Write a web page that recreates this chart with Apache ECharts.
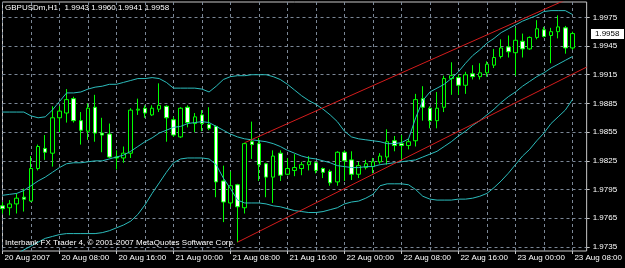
<!DOCTYPE html>
<html><head><meta charset="utf-8">
<script src="https://cdn.jsdelivr.net/npm/echarts@6/dist/echarts.min.js"></script>
<style>html,body{margin:0;padding:0;background:#000;}#c{width:625px;height:268px;}</style>
</head><body><div id="c"></div>
<script>
const chartTitle = "GBPUSDm,H1   1.9943 1.9960 1.9941 1.9958";
const copyright = "Interbank FX Trader 4, \u00a9 2001-2007 MetaQuotes Software Corp.";
const tickLabels = ["20 Aug 2007","20 Aug 08:00","20 Aug 16:00","21 Aug 00:00","21 Aug 08:00","21 Aug 16:00","22 Aug 00:00","22 Aug 08:00","22 Aug 16:00","23 Aug 00:00","23 Aug 08:00"];
const priceTicks = [1.9735,1.9765,1.9795,1.9825,1.9855,1.9885,1.9915,1.9945,1.9975];
const lastPrice = 1.9958;

const opens = [1.9778,1.9776,1.9780,1.9787,1.9783,1.9817,1.9838,1.9833,1.9870,1.9875,
1.9890,1.9867,1.9856,1.9881,1.9854,1.9853,1.9829,1.9828,1.9833,1.9878,
1.9880,1.9873,1.9879,1.9882,1.9868,1.9850,1.9881,1.9864,1.9873,1.9863,
1.9861,1.9804,1.9781,1.9800,1.9776,1.9845,1.9843,1.9822,1.9808,1.9833,
1.9811,1.9815,1.9817,1.9821,1.9823,1.9817,1.9814,1.9803,1.9834,1.9826,
1.9811,1.9818,1.9819,1.9824,1.9829,1.9846,1.9843,1.9841,1.9846,1.9890,
1.9880,1.9867,1.9881,1.9911,1.9912,1.9904,1.9916,1.9913,1.9917,1.9925,
1.9934,1.9944,1.9938,1.9950,1.9942,1.9954,1.9962,1.9956,1.9960,1.9964,
1.9943];
const highs = [1.9782,1.9784,1.9791,1.9796,1.9830,1.9842,1.9852,1.9882,1.9882,1.9900,
1.9892,1.9876,1.9885,1.9894,1.9870,1.9864,1.9836,1.9840,1.9880,1.9890,
1.9883,1.9883,1.9906,1.9883,1.9871,1.9881,1.9883,1.9875,1.9878,1.9881,
1.9862,1.9820,1.9814,1.9801,1.9844,1.9866,1.9849,1.9823,1.9836,1.9836,
1.9828,1.9832,1.9824,1.9830,1.9824,1.9818,1.9816,1.9835,1.9836,1.9835,
1.9824,1.9826,1.9828,1.9833,1.9858,1.9851,1.9852,1.9848,1.9895,1.9903,
1.9882,1.9897,1.9914,1.9928,1.9915,1.9918,1.9925,1.9927,1.9929,1.9942,
1.9952,1.9956,1.9964,1.9958,1.9955,1.9972,1.9965,1.9964,1.9977,1.9966,
1.9960];
const lows = [1.9770,1.9768,1.9770,1.9772,1.9782,1.9815,1.9826,1.9819,1.9855,1.9865,
1.9865,1.9842,1.9847,1.9845,1.9834,1.9828,1.9816,1.9823,1.9828,1.9873,
1.9870,1.9872,1.9876,1.9845,1.9850,1.9849,1.9860,1.9855,1.9856,1.9857,
1.9787,1.9761,1.9777,1.9740,1.9770,1.9827,1.9804,1.9787,1.9781,1.9804,
1.9810,1.9809,1.9810,1.9815,1.9812,1.9807,1.9799,1.9799,1.9804,1.9805,
1.9807,1.9816,1.9812,1.9822,1.9821,1.9835,1.9827,1.9837,1.9840,1.9867,
1.9859,1.9859,1.9876,1.9894,1.9894,1.9895,1.9910,1.9910,1.9913,1.9922,
1.9932,1.9933,1.9914,1.9933,1.9941,1.9952,1.9954,1.9927,1.9953,1.9937,
1.9941];
const closes = [1.9775,1.9780,1.9786,1.9785,1.9817,1.9840,1.9834,1.9870,1.9877,1.9889,
1.9867,1.9857,1.9880,1.9854,1.9852,1.9829,1.9828,1.9833,1.9878,1.9879,
1.9875,1.9880,1.9883,1.9870,1.9852,1.9880,1.9865,1.9871,1.9864,1.9859,
1.9803,1.9782,1.9799,1.9777,1.9843,1.9842,1.9821,1.9808,1.9830,1.9810,
1.9817,1.9818,1.9821,1.9824,1.9815,1.9813,1.9802,1.9834,1.9825,1.9811,
1.9820,1.9822,1.9824,1.9830,1.9845,1.9841,1.9841,1.9845,1.9889,1.9881,
1.9867,1.9880,1.9911,1.9914,1.9904,1.9915,1.9913,1.9917,1.9926,1.9933,
1.9943,1.9939,1.9951,1.9942,1.9954,1.9963,1.9955,1.9960,1.9965,1.9943,
1.9958];

const bbUpper = [1.9876,1.9876,1.9876,1.9876,1.9872,1.9870,1.9871,1.9878,1.9887,1.9896,
1.9896,1.9897,1.9900,1.9902,1.9903,1.9905,1.9905,1.9907,1.9909,1.9911,
1.9911,1.9912,1.9911,1.9907,1.9901,1.9901,1.9901,1.9901,1.9900,1.9897,
1.9903,1.9910,1.9913,1.9914,1.9914,1.9915,1.9915,1.9915,1.9913,1.9910,
1.9905,1.9899,1.9893,1.9888,1.9884,1.9879,1.9873,1.9866,1.9856,1.9850,
1.9848,1.9847,1.9846,1.9845,1.9843,1.9843,1.9844,1.9848,1.9870,1.9888,
1.9897,1.9901,1.9905,1.9911,1.9918,1.9927,1.9935,1.9941,1.9948,1.9953,
1.9959,1.9963,1.9967,1.9971,1.9974,1.9977,1.9981,1.9982,1.9982,1.9982,
1.9978];
const bbMiddle = [1.9789,1.9790,1.9791,1.9794,1.9799,1.9804,1.9808,1.9813,1.9818,1.9822,
1.9823,1.9823,1.9824,1.9825,1.9825,1.9827,1.9829,1.9831,1.9835,1.9840,
1.9845,1.9849,1.9854,1.9857,1.9860,1.9861,1.9864,1.9865,1.9866,1.9865,
1.9861,1.9857,1.9853,1.9850,1.9848,1.9847,1.9846,1.9845,1.9843,1.9840,
1.9836,1.9833,1.9830,1.9828,1.9827,1.9825,1.9823,1.9820,1.9819,1.9818,
1.9818,1.9819,1.9819,1.9821,1.9822,1.9823,1.9824,1.9825,1.9826,1.9829,
1.9832,1.9835,1.9840,1.9845,1.9851,1.9856,1.9862,1.9867,1.9873,1.9879,
1.9886,1.9892,1.9897,1.9903,1.9908,1.9913,1.9917,1.9922,1.9926,1.9930,
1.9934];
const bbLower = [1.9719,1.9724,1.9728,1.9732,1.9736,1.9740,1.9744,1.9746,1.9748,1.9749,
1.9749,1.9749,1.9749,1.9749,1.9750,1.9752,1.9755,1.9758,1.9762,1.9769,
1.9779,1.9791,1.9802,1.9813,1.9823,1.9827,1.9828,1.9828,1.9828,1.9827,
1.9821,1.9807,1.9796,1.9784,1.9781,1.9781,1.9781,1.9780,1.9778,1.9777,
1.9775,1.9773,1.9772,1.9771,1.9771,1.9772,1.9774,1.9776,1.9780,1.9782,
1.9783,1.9786,1.9790,1.9799,1.9801,1.9801,1.9801,1.9800,1.9795,1.9788,
1.9785,1.9784,1.9784,1.9784,1.9785,1.9785,1.9786,1.9788,1.9791,1.9797,
1.9804,1.9812,1.9821,1.9830,1.9837,1.9846,1.9854,1.9864,1.9871,1.9878,
1.9889];

const trendUpper = [[34, 1.9844], [82, 2.0003]];
const trendLower = [[33, 1.9740], [82, 1.9923]];

// hourly slots, 20 Aug 00:00 .. 23 Aug 10:00 (two empty slots of right shift)
const dayNames = ["20 Aug","21 Aug","22 Aug","23 Aug"];
const categories = [];
for (let d = 0; d < dayNames.length; d++) {
  for (let h = 0; h < 24 && categories.length < 83; h++) {
    categories.push(dayNames[d] + " " + String(h).padStart(2, "0") + ":00");
  }
}

const candleData = opens.map((o, i) => [o, closes[i], lows[i], highs[i]]);
const FONT = "Liberation Sans";
const GRIDC = "#7b8796";
const BB = "#2cbcbc";
const RED = "#d41c1c";
const labelShown = (i) => i % 8 === 0 && i <= 80;

const chart = echarts.init(document.getElementById('c'), null, {renderer: 'canvas'});
chart.setOption({
  backgroundColor: '#000000',
  animation: false,
  grid: {left: 2.5, right: 36, top: 2, bottom: 17, show: true, borderColor: '#c8c8c8', borderWidth: 1, backgroundColor: '#000'},
  xAxis: {
    type: 'category', data: categories, boundaryGap: false,
    axisLine: {show: false},
    axisTick: {show: true, length: 3, interval: labelShown, lineStyle: {color: '#c8c8c8'}},
    axisLabel: {
      interval: labelShown,
      formatter: (v, i) => tickLabels[i / 8] || '',
      color: '#ffffff', fontFamily: FONT, fontSize: 8, align: 'left', margin: 3, padding: [0, 0, 0, 2],
      hideOverlap: false
    },
    splitLine: {show: true, interval: (i) => i % 4 === 0, lineStyle: {color: GRIDC, type: [3, 3], width: 1}}
  },
  yAxis: {
    type: 'value', position: 'right', min: 1.97308, max: 1.99910, scale: true,
    axisLine: {show: false},
    axisTick: {show: true, length: 3, customValues: priceTicks, lineStyle: {color: '#c8c8c8'}},
    axisLabel: {customValues: priceTicks, formatter: (v) => v.toFixed(4), color: '#ffffff', fontFamily: FONT, fontSize: 8, margin: 6},
    splitLine: {show: true, lineStyle: {color: GRIDC, type: [3, 3], width: 1}}
  },
  graphic: [
    {type: 'text', left: 5, top: 4, style: {text: chartTitle, fill: '#ffffff', font: '8px "' + FONT + '"'}, z: 100},
    {type: 'text', left: 5, top: 239, style: {text: copyright, fill: '#ffffff', font: '8px "' + FONT + '"'}, z: 100}
  ],
  series: [
    {
      type: 'candlestick', data: candleData, barWidth: 4, z: 2,
      itemStyle: {color: '#000000', color0: '#ffffff', borderColor: '#00ff00', borderColor0: '#00ff00', borderWidth: 1},
      markLine: {
        silent: true, symbol: ['none', 'none'], animation: false,
        lineStyle: {color: '#8f9cab', type: 'solid', width: 1},
        label: {show: false},
        data: [{yAxis: lastPrice}]
      }
    },
    {type: 'line', data: bbUpper, symbol: 'none', z: 3, lineStyle: {color: BB, width: 1}},
    {type: 'line', data: bbMiddle, symbol: 'none', z: 3, lineStyle: {color: BB, width: 1}},
    {type: 'line', data: bbLower, symbol: 'none', z: 3, lineStyle: {color: BB, width: 1}},
    {type: 'line', data: trendUpper, symbol: 'none', z: 3, lineStyle: {color: RED, width: 1}},
    {type: 'line', data: trendLower, symbol: 'none', z: 3, lineStyle: {color: RED, width: 1}}
  ]
});

// current-price tag on the price scale, positioned through the axis scale
const py = chart.convertToPixel({yAxisIndex: 0}, lastPrice);
const gridRight = 625 - 36;
chart.setOption({
  graphic: [
    {type: 'text', left: 5, top: 4, style: {text: chartTitle, fill: '#ffffff', font: '8px "' + FONT + '"'}, z: 100},
    {type: 'text', left: 5, top: 239, style: {text: copyright, fill: '#ffffff', font: '8px "' + FONT + '"'}, z: 100},
    {type: 'rect', shape: {x: gridRight + 2, y: Math.round(py) - 5, width: 33, height: 10}, style: {fill: '#ffffff'}, z: 100},
    {type: 'text', x: gridRight + 6, y: Math.round(py), style: {text: lastPrice.toFixed(4), fill: '#000000', font: '8px "' + FONT + '"', verticalAlign: 'middle'}, z: 101}
  ]
});
</script></body></html>
